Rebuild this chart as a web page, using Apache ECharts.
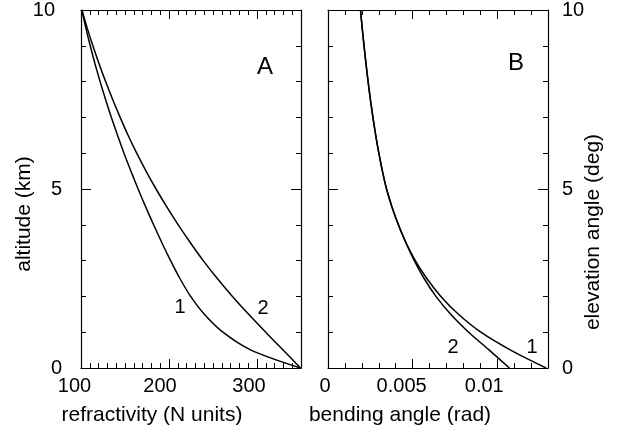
<!DOCTYPE html>
<html><head><meta charset="utf-8">
<script src="https://cdn.jsdelivr.net/npm/echarts@6/dist/echarts.min.js"></script>
<style>html,body{margin:0;padding:0;background:#fff}#c{width:625px;height:439px}</style>
</head><body><div id="c"></div>
<script>
// Panel A: refractivity (N units) vs altitude (km)
const altA = [10, 9.5, 9, 8.5, 8, 7.5, 7, 6.5, 6, 5.5, 5, 4.5, 4, 3.5, 3, 2.5, 2, 1.5, 1, 0.5, 0];
const refr1 = [101, 105.5, 110.5, 115.9, 121.7, 127.9, 134.5, 141.5, 148.9, 156.7, 164.9, 173.5, 182.5, 191.9, 201.8, 212.4, 224.6, 240.2, 261.2, 293.2, 349.4];
const refr2 = [101, 107, 113.5, 120.5, 128, 136, 144.5, 153.5, 163.3, 173.9, 185.3, 197.5, 210.5, 224.3, 238.9, 254.9, 272.1, 290.5, 309.9, 329.7, 349.4];
// Panel B: bending angle (rad) vs elevation angle (deg)
const elevB = [10, 9.5, 9, 8.5, 8, 7.5, 7, 6.5, 6, 5.5, 5, 4.5, 4, 3.5, 3, 2.5, 2, 1.5, 1, 0.5, 0];
const bend1 = [0.00192, 0.00202, 0.00213, 0.002245, 0.00237, 0.002505, 0.002655, 0.00282, 0.003005, 0.003215, 0.00346, 0.00378, 0.00416, 0.00461, 0.00516, 0.00584, 0.00667, 0.00771, 0.00903, 0.01079, 0.01289];
const bend2 = [0.00192, 0.00202, 0.00213, 0.002245, 0.00237, 0.002505, 0.002655, 0.00282, 0.003005, 0.003215, 0.00346, 0.00378, 0.00416, 0.00460, 0.00510, 0.00568, 0.00638, 0.00725, 0.00831, 0.00953, 0.01072];
// tick labels
const refrTicks = [100, 200, 300];
const bendTicks = [0, 0.005, 0.01];
const bendTickText = ['0', '0.005', '0.01'];
const altTicks = [0, 5, 10];

const FONT = 'Liberation Sans, Arial, Helvetica, sans-serif';
const BLACK = '#000';
const chart = echarts.init(document.getElementById('c'), null, {renderer: 'canvas'});

function zip(xs, ys) { return xs.map((x, i) => [x, ys[i]]); }

function axisCommon(pos) {
  return {
    position: pos, splitLine: {show: false},
    axisLine: {show: true, onZero: false, lineStyle: {color: BLACK, width: 1.2}},
    axisTick: {show: true, inside: true, length: 9, lineStyle: {color: BLACK, width: 1}},
    minorTick: {show: true, length: 5, lineStyle: {color: BLACK, width: 1}}
  };
}

function makeX(grid, pos, min, max, interval, split, labelFn, rich) {
  const a = Object.assign({type: 'value', gridIndex: grid, min: min, max: max, interval: interval}, axisCommon(pos));
  a.minorTick.splitNumber = split;
  a.axisLabel = labelFn
    ? {show: true, margin: 8, color: BLACK, fontFamily: FONT, fontSize: 20, formatter: labelFn, rich: rich, hideOverlap: false}
    : {show: false};
  return a;
}
function makeY(grid, pos, margin, labelFn, rich) {
  const a = Object.assign({type: 'value', gridIndex: grid, min: 0, max: 10, interval: 5}, axisCommon(pos));
  a.axisTick.length = 10;
  a.minorTick.splitNumber = 5;
  a.axisLabel = labelFn
    ? {show: true, margin: margin, color: BLACK, fontFamily: FONT, fontSize: 20, formatter: labelFn, rich: rich, hideOverlap: false}
    : {show: false};
  return a;
}

const refrLabel = v => {
  const i = refrTicks.indexOf(Math.round(v));
  return (i >= 0 && Math.abs(v - refrTicks[i]) < 1e-6) ? '{r' + i + '|' + refrTicks[i] + '}' : '';
};
const refrRich = {r0: {padding: [0, 13, 0, 0]}, r1: {padding: [0, 18, 0, 0]}, r2: {padding: [0, 16, 0, 0]}};
const bendLabel = v => {
  for (let i = 0; i < bendTicks.length; i++) {
    if (Math.abs(v - bendTicks[i]) < 1e-9) return '{b' + i + '|' + bendTickText[i] + '}';
  }
  return '';
};
const bendRich = {b0: {padding: [0, 6, 0, 0]}, b1: {padding: [0, 22, 0, 0]}, b2: {padding: [0, 26, 0, 0]}};
const altLabelL = v => {
  const r = Math.round(v);
  const i = altTicks.indexOf(r);
  return (i >= 0 && Math.abs(v - r) < 1e-6) ? '{a' + i + '|' + altTicks[i] + '}' : '';
};
const altRichL = {a0: {padding: [0, 0, 0, 0]}, a1: {padding: [0, 0, 0, 0]}, a2: {padding: [0, 7, 0, 0]}};
const altLabelR = v => {
  const r = Math.round(v);
  const i = altTicks.indexOf(r);
  return (i >= 0 && Math.abs(v - r) < 1e-6) ? String(altTicks[i]) : '';
};

const lineStyle = {color: BLACK, width: 1.5};
function curve(xi, yi, data) {
  return {type: 'line', xAxisIndex: xi, yAxisIndex: yi, data: data, smooth: 0.3,
    showSymbol: false, symbol: 'none', lineStyle: lineStyle, silent: true, animation: false};
}

function txt(x, y, s, size, rot) {
  return {type: 'text', x: x, y: y, rotation: rot || 0, silent: true,
    style: {text: s, fill: BLACK, font: size + 'px ' + FONT, textAlign: 'center', textVerticalAlign: 'middle'}};
}

const option = {
  animation: false,
  backgroundColor: '#fff',
  grid: [
    {left: 81, top: 8, width: 220, height: 360, containLabel: false},
    {left: 328, top: 8, width: 220, height: 360, containLabel: false}
  ],
  xAxis: [
    makeX(0, 'bottom', 100, 350, 100, 10, refrLabel, refrRich),
    makeX(0, 'top', 100, 350, 100, 10, null, null),
    makeX(1, 'bottom', 0, 0.013, 0.005, 5, bendLabel, bendRich),
    makeX(1, 'top', 0, 0.013, 0.005, 5, null, null)
  ],
  yAxis: [
    makeY(0, 'left', 19, altLabelL, altRichL),
    makeY(0, 'right', 8, null, null),
    makeY(1, 'left', 8, null, null),
    makeY(1, 'right', 14, altLabelR, null)
  ],
  series: [
    curve(0, 0, zip(refr1, altA)),
    curve(0, 0, zip(refr2, altA)),
    curve(2, 2, zip(bend1, elevB)),
    curve(2, 2, zip(bend2, elevB))
  ],
  graphic: [
    txt(24.5, 214, 'altitude (km)', 21, Math.PI / 2),
    txt(593.5, 232, 'elevation angle (deg)', 21, Math.PI / 2),
    txt(152, 415, 'refractivity (N units)', 21),
    txt(400, 415, 'bending angle (rad)', 21),
    txt(265, 67, 'A', 24),
    txt(516, 63, 'B', 24),
    txt(180, 307, '1', 20),
    txt(263, 308, '2', 20),
    txt(453, 347, '2', 20),
    txt(532, 347, '1', 20)
  ]
};
chart.setOption(option);
</script></body></html>
